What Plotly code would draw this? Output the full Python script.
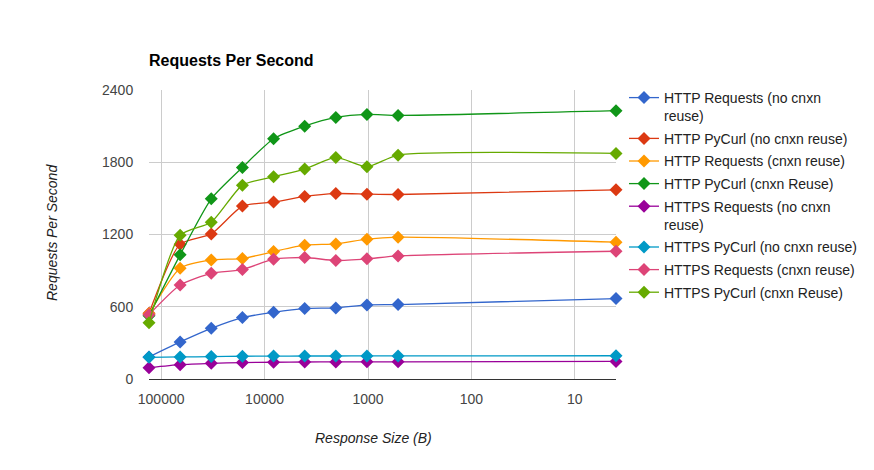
import math
import plotly.graph_objects as go

sizes = [131072, 65536, 32768, 16384, 8192, 4096, 2048, 1024, 512, 4]

names = [
    "HTTP Requests (no cnxn<br>reuse)",
    "HTTP PyCurl (no cnxn reuse)",
    "HTTP Requests (cnxn reuse)",
    "HTTP PyCurl (cnxn Reuse)",
    "HTTPS Requests (no cnxn<br>reuse)",
    "HTTPS PyCurl (no cnxn reuse)",
    "HTTPS Requests (cnxn reuse)",
    "HTTPS PyCurl (cnxn Reuse)",
]

http_requests_no_reuse = [183, 308, 421, 510, 554, 585, 590, 615, 618, 668]
http_pycurl_no_reuse = [545, 1120, 1205, 1436, 1469, 1516, 1540, 1535, 1532, 1571]
http_requests_reuse = [540, 920, 989, 1000, 1058, 1111, 1122, 1161, 1178, 1136]
http_pycurl_reuse = [525, 1031, 1496, 1757, 1995, 2100, 2172, 2197, 2189, 2228]
https_requests_no_reuse = [94, 119, 130, 136, 139, 141, 142, 143, 143, 146]
https_pycurl_no_reuse = [180, 183, 186, 189, 190, 191, 191, 192, 192, 193]
https_requests_reuse = [534, 781, 878, 909, 995, 1009, 984, 998, 1022, 1061]
https_pycurl_reuse = [468, 1194, 1302, 1610, 1679, 1743, 1840, 1762, 1859, 1873]

series = [http_requests_no_reuse, http_pycurl_no_reuse, http_requests_reuse,
          http_pycurl_reuse, https_requests_no_reuse, https_pycurl_no_reuse,
          https_requests_reuse, https_pycurl_reuse]

colors = ["#3366cc", "#dc3912", "#ff9900", "#109618",
          "#990099", "#0099c6", "#dd4477", "#66aa00"]

x_tickvals = [100000, 10000, 1000, 100, 10]
x_ticktext = ["100000", "10000", "1000", "100", "10"]
y_tickvals = [0, 600, 1200, 1800, 2400]

FONT = "Arial, Liberation Sans, sans-serif"

fig = go.Figure()
for i, (name, vals, col) in enumerate(zip(names, series, colors)):
    fig.add_trace(go.Scatter(
        x=sizes, y=vals, name=name, mode="lines+markers",
        line=dict(color=col, width=1.3, shape="spline", smoothing=0.6),
        marker=dict(symbol="diamond", size=10, color=col),
        cliponaxis=False, legendgroup=f"g{i}",
    ))

x_range = [math.log10(max(sizes)) + 1e-4, math.log10(min(sizes)) - 1e-4]

fig.update_layout(
    width=874, height=470,
    margin=dict(l=149, r=258, t=90, b=91),
    paper_bgcolor="white", plot_bgcolor="white",
    font=dict(family=FONT, size=13, color="#222"),
    title=dict(text="<b>Requests Per Second</b>", x=149/874, xanchor="left",
               y=1 - 60/470, yanchor="middle",
               font=dict(family=FONT, size=16, color="#000")),
    legend=dict(x=(624 - 149) / 467, xanchor="left", y=1 - (82 - 90) / 289,
                yanchor="top", valign="top",
                font=dict(family=FONT, size=14, color="#222"),
                tracegroupgap=1.4, bgcolor="rgba(0,0,0,0)", itemwidth=30),
    showlegend=True,
)

fig.update_xaxes(
    type="log", range=x_range,
    tickvals=x_tickvals, ticktext=x_ticktext,
    showgrid=True, gridcolor="#cccccc", gridwidth=1,
    showline=True, linecolor="#333333", linewidth=1,
    ticks="outside", ticklen=7, tickcolor="rgba(0,0,0,0)",
    tickfont=dict(family=FONT, size=14, color="#444"),
    zeroline=False,
)
fig.update_yaxes(
    range=[0, 2400], tickvals=y_tickvals,
    showgrid=True, gridcolor="#cccccc", gridwidth=1,
    showline=False, zeroline=False,
    ticks="outside", ticklen=12, tickcolor="rgba(0,0,0,0)",
    tickfont=dict(family=FONT, size=14, color="#444"),
)

fig.add_annotation(text="Response Size (B)", xref="paper", yref="paper",
                   x=(373 - 149) / 467, y=-(438 - 379) / 289, showarrow=False,
                   xanchor="center", yanchor="middle",
                   font=dict(family=FONT, size=14, color="#222", style="italic"))
fig.add_annotation(text="Requests Per Second", xref="paper", yref="paper",
                   x=-(149 - 52) / 467, y=(379 - 233) / 289, showarrow=False,
                   textangle=-90, xanchor="center", yanchor="middle",
                   font=dict(family=FONT, size=14, color="#222", style="italic"))

fig.write_html("out.html")
